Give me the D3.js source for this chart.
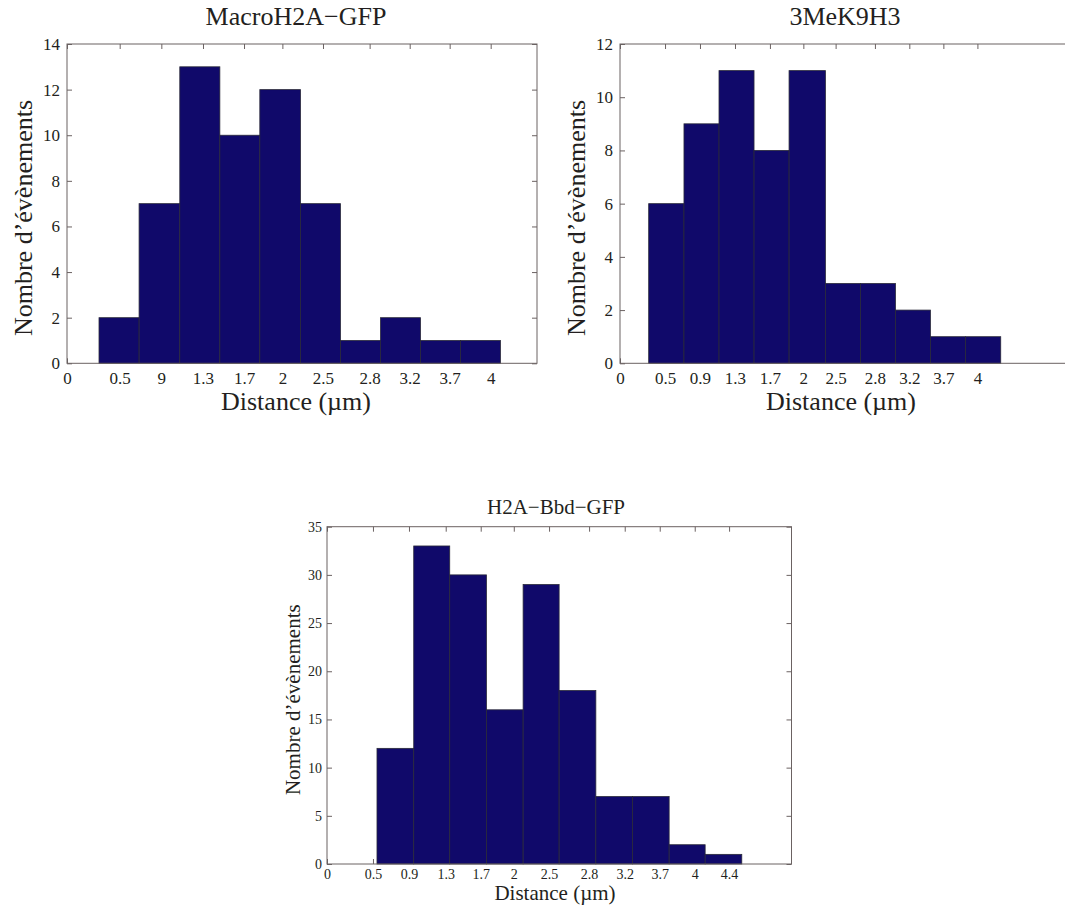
<!DOCTYPE html>
<html>
<head>
<meta charset="utf-8">
<script src="https://cdn.jsdelivr.net/npm/d3@7"></script>
<style>
  body { margin: 0; background: #fff; }
  svg { display: block; }
  text { font-family: 'Liberation Serif', 'Times New Roman', serif; fill: #231f20; }
</style>
</head>
<body>
<svg id="chart" width="1065" height="905"></svg>
<script>
// MacroH2A-GFP
const macroCounts = [2, 7, 13, 10, 12, 7, 1, 2, 1, 1];
const macroEdges = [0.302, 0.680, 1.064, 1.442, 1.819, 2.203, 2.580, 2.958, 3.335, 3.712, 4.089];
const macroTicks = [0, 0.497, 0.890, 1.283, 1.670, 2.032, 2.415, 2.855, 3.233, 3.610, 3.997];
const macroTickLabels = ['0', '0.5', '9', '1.3', '1.7', '2', '2.5', '2.8', '3.2', '3.7', '4'];
const macroYTicks = [0, 2, 4, 6, 8, 10, 12, 14];

// 3MeK9H3
const meCounts = [6, 9, 11, 8, 11, 3, 3, 2, 1, 1];
const meEdges = [0.321, 0.716, 1.108, 1.500, 1.892, 2.299, 2.691, 3.083, 3.474, 3.866, 4.261];
const meTicks = [0, 0.504, 0.895, 1.287, 1.678, 2.052, 2.413, 2.853, 3.238, 3.619, 4.0];
const meTickLabels = ['0', '0.5', '0.9', '1.3', '1.7', '2', '2.5', '2.8', '3.2', '3.7', '4'];
const meYTicks = [0, 2, 4, 6, 8, 10, 12];

// H2A-Bbd-GFP
const bbdCounts = [12, 33, 30, 16, 29, 18, 7, 7, 2, 1];
const bbdEdges = [0.547, 0.949, 1.343, 1.745, 2.146, 2.540, 2.942, 3.343, 3.744, 4.138, 4.539];
const bbdTicks = [0, 0.503, 0.897, 1.299, 1.682, 2.044, 2.430, 2.868, 3.258, 3.641, 4.024, 4.400];
const bbdTickLabels = ['0', '0.5', '0.9', '1.3', '1.7', '2', '2.5', '2.8', '3.2', '3.7', '4', '4.4'];
const bbdYTicks = [0, 5, 10, 15, 20, 25, 30, 35];

const AXIS_COLOR = '#6b6262';
const BAR_FILL = '#10096a';
const BAR_STROKE = '#2a2a3a';

const svg = d3.select('#chart');

function drawHist(cfg) {
  const g = svg.append('g').attr('transform', `translate(${cfg.left}, ${cfg.top})`);

  const x = d3.scaleLinear().domain([0, cfg.xMax]).range([0, cfg.width]);
  const y = d3.scaleLinear().domain([0, cfg.yMax]).range([cfg.height, 0]);

  const bins = cfg.counts.map((c, i) => ({ x0: cfg.edges[i], x1: cfg.edges[i + 1], count: c }));

  // ticks (inward, on all four sides)
  const fmt = (d, i) => cfg.tickLabels[i];
  g.append('g')
    .attr('transform', `translate(0, ${cfg.height})`)
    .call(d3.axisBottom(x).tickValues(cfg.ticks).tickFormat(fmt)
      .tickSizeInner(-cfg.tickLen).tickSizeOuter(0).tickPadding(cfg.xPad));
  g.append('g')
    .call(d3.axisTop(x).tickValues(cfg.ticks).tickFormat('')
      .tickSizeInner(-cfg.tickLen).tickSizeOuter(0));
  g.append('g')
    .call(d3.axisLeft(y).tickValues(cfg.yTicks)
      .tickSizeInner(-cfg.tickLen).tickSizeOuter(0).tickPadding(cfg.yPad));
  g.append('g')
    .attr('transform', `translate(${cfg.width}, 0)`)
    .call(d3.axisRight(y).tickValues(cfg.yTicks).tickFormat('')
      .tickSizeInner(-cfg.tickLen).tickSizeOuter(0));

  g.selectAll('.domain').remove();
  g.selectAll('.tick line').attr('stroke', AXIS_COLOR);
  g.selectAll('.tick text')
    .style('font-family', "'Liberation Serif', 'Times New Roman', serif")
    .style('font-size', cfg.tickFont + 'px')
    .attr('fill', '#231f20');

  // bars
  g.selectAll('.bar')
    .data(bins)
    .enter()
    .append('rect')
    .attr('class', 'bar')
    .attr('x', d => x(d.x0))
    .attr('width', d => x(d.x1) - x(d.x0))
    .attr('y', d => y(d.count))
    .attr('height', d => y(0) - y(d.count))
    .attr('fill', BAR_FILL)
    .attr('stroke', BAR_STROKE)
    .attr('stroke-width', 0.8);

  // box
  g.append('rect')
    .attr('width', cfg.width)
    .attr('height', cfg.height)
    .attr('fill', 'none')
    .attr('stroke', AXIS_COLOR)
    .attr('stroke-width', 1);

  // title and labels
  g.append('text')
    .attr('x', cfg.titleX)
    .attr('y', cfg.titleY)
    .attr('text-anchor', 'middle')
    .style('font-size', cfg.labelFont + 'px')
    .text(cfg.title);

  g.append('text')
    .attr('x', cfg.xLabelX)
    .attr('y', cfg.xLabelY)
    .attr('text-anchor', 'middle')
    .style('font-size', cfg.labelFont + 'px')
    .text('Distance (\u00b5m)');

  g.append('text')
    .attr('transform', `translate(${cfg.yLabelX}, ${cfg.yLabelY}) rotate(-90)`)
    .attr('text-anchor', 'middle')
    .attr('dy', '0.35em')
    .style('font-size', cfg.labelFont + 'px')
    .text('Nombre d\u2019\u00e9v\u00e8nements');
}

drawHist({
  title: 'MacroH2A\u2212GFP',
  counts: macroCounts, edges: macroEdges,
  ticks: macroTicks, tickLabels: macroTickLabels, yTicks: macroYTicks,
  left: 67, top: 44, width: 470, height: 319.3, xMax: 4.434, yMax: 14,
  tickLen: 5, xPad: 9, yPad: 7, tickFont: 17, labelFont: 26,
  titleX: 229, titleY: -19, xLabelX: 229, xLabelY: 366, yLabelX: -44, yLabelY: 174
});

drawHist({
  title: '3MeK9H3',
  counts: meCounts, edges: meEdges,
  ticks: meTicks, tickLabels: meTickLabels, yTicks: meYTicks,
  left: 620, top: 44, width: 470, height: 319.3, xMax: 5.26, yMax: 12,
  tickLen: 5, xPad: 9, yPad: 7, tickFont: 17, labelFont: 26,
  titleX: 225, titleY: -19, xLabelX: 221, xLabelY: 366, yLabelX: -44, yLabelY: 174
});

drawHist({
  title: 'H2A\u2212Bbd\u2212GFP',
  counts: bbdCounts, edges: bbdEdges,
  ticks: bbdTicks, tickLabels: bbdTickLabels, yTicks: bbdYTicks,
  left: 327, top: 526.7, width: 464.5, height: 337.3, xMax: 5.083, yMax: 35,
  tickLen: 5, xPad: 5, yPad: 5, tickFont: 14, labelFont: 21,
  titleX: 229, titleY: -13, xLabelX: 228, xLabelY: 373, yLabelX: -34, yLabelY: 173
});
</script>
</body>
</html>
